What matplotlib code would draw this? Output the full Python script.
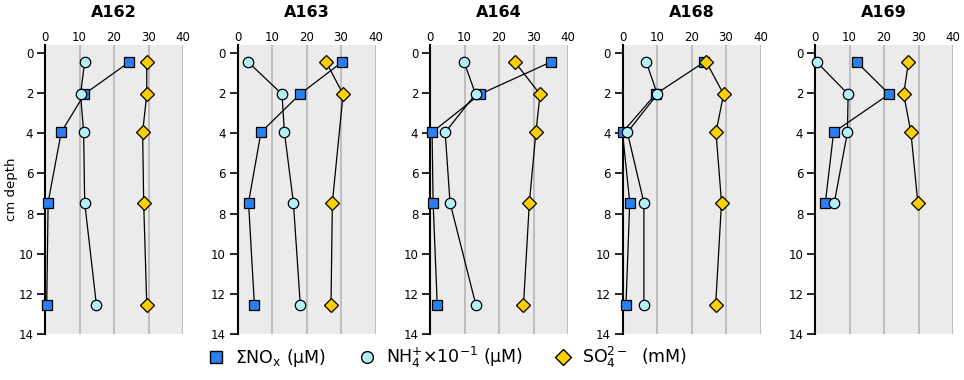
import numpy as np
import matplotlib.pyplot as plt
from matplotlib.lines import Line2D

stations = ['A162', 'A163', 'A164', 'A168', 'A169']

# depth (cm) for each measurement
depth_nox = {
    'A162': [0.45, 2.05, 3.95, 7.45, 12.55],
    'A163': [0.45, 2.05, 3.95, 7.45, 12.55],
    'A164': [0.45, 2.05, 3.95, 7.45, 12.55],
    'A168': [0.45, 2.05, 3.95, 7.45, 12.55],
    'A169': [0.45, 2.05, 3.95, 7.45],
}
nox = {
    'A162': [24.4, 11.4, 4.7, 0.9, 0.5],
    'A163': [30.3, 18.1, 6.8, 3.2, 4.9],
    'A164': [35.0, 14.5, 0.6, 0.9, 2.1],
    'A168': [23.7, 9.6, 0.0, 2.1, 1.0],
    'A169': [12.1, 21.5, 5.4, 3.0],
}
depth_nh4 = {
    'A162': [0.45, 2.05, 3.95, 7.45, 12.55],
    'A163': [0.45, 2.05, 3.95, 7.45, 12.55],
    'A164': [0.45, 2.05, 3.95, 7.45, 12.55],
    'A168': [0.45, 2.05, 3.95, 7.45, 12.55],
    'A169': [0.45, 2.05, 3.95, 7.45],
}
nh4 = {
    'A162': [11.5, 10.3, 11.2, 11.5, 14.9],
    'A163': [3.1, 12.9, 13.6, 16.2, 18.2],
    'A164': [9.9, 13.2, 4.4, 5.8, 13.3],
    'A168': [6.9, 10.1, 1.4, 6.2, 6.2],
    'A169': [0.5, 9.6, 9.4, 5.6],
}
depth_so4 = {
    'A162': [0.45, 2.05, 3.95, 7.45, 12.55],
    'A163': [0.45, 2.05, 7.45, 12.55],
    'A164': [0.45, 2.05, 3.95, 7.45, 12.55],
    'A168': [0.45, 2.05, 3.95, 7.45, 12.55],
    'A169': [0.45, 2.05, 3.95, 7.45],
}
so4 = {
    'A162': [29.5, 29.5, 28.3, 28.6, 29.5],
    'A163': [25.7, 30.6, 27.5, 27.1],
    'A164': [24.6, 31.9, 30.7, 28.8, 27.1],
    'A168': [24.3, 29.3, 27.1, 28.7, 27.0],
    'A169': [27.1, 25.7, 27.8, 29.8],
}

c_nox = '#2b7ff0'
c_nh4 = '#b3f0f7'
c_so4 = '#ffd000'

fig = plt.figure(figsize=(9.64, 3.8), dpi=100)

for i, st in enumerate(stations):
    left = (45 + i * 192.5) / 964
    ax = fig.add_axes([left, 46 / 380, 138 / 964, (334 - 45) / 380])
    ax.set_facecolor('#ebebeb')
    ax.plot(nox[st], depth_nox[st], color='black', lw=0.9, marker='s', ms=7,
            mfc=c_nox, mec='black', mew=0.9, zorder=3, clip_on=False)
    ax.plot(nh4[st], depth_nh4[st], color='black', lw=0.9, marker='o', ms=7.5,
            mfc=c_nh4, mec='black', mew=0.9, zorder=4, clip_on=False)
    ax.plot(so4[st], depth_so4[st], color='black', lw=0.9, marker='D', ms=7,
            mfc=c_so4, mec='black', mew=0.9, zorder=5, clip_on=False)
    ax.set_xlim(0, 40)
    ax.set_ylim(14, -0.4)
    ax.set_xticks([0, 10, 20, 30, 40])
    ax.set_yticks(np.arange(0, 15, 2))
    ax.xaxis.tick_top()
    ax.tick_params(axis='x', length=0, labelsize=8.5, pad=1)
    ax.tick_params(axis='y', length=6, width=1.2, labelsize=8.5, pad=2.5)
    ax.grid(axis='x', color='#bababa', lw=1.3)
    ax.set_axisbelow(True)
    for s in ['top', 'right', 'bottom']:
        ax.spines[s].set_visible(False)
    ax.spines['left'].set_linewidth(1.5)
    ax.spines['left'].set_zorder(2.5)
    ax.set_title(st, fontsize=11.5, fontweight='bold', pad=10)
    if i == 0:
        ax.set_ylabel('cm depth', fontsize=9.5, labelpad=0)

handles = [
    Line2D([], [], ls='none', marker='s', ms=8.5, mfc=c_nox, mec='black'),
    Line2D([], [], ls='none', marker='o', ms=8.5, mfc=c_nh4, mec='black'),
    Line2D([], [], ls='none', marker='D', ms=8.5, mfc=c_so4, mec='black'),
]
labels = [r'$\Sigma$NO$_\mathrm{x}$ (µM)',
          r'NH$_4^{+}$$\times$10$^{-1}$ (µM)',
          r'SO$_4^{2-}$  (mM)']
fig.legend(handles, labels, loc='center', bbox_to_anchor=(0.464, 0.06), ncol=3,
           frameon=False, fontsize=12.5, handletextpad=0.6, columnspacing=1.8,
           handlelength=1.0)

fig.savefig('out.png', dpi=100)
